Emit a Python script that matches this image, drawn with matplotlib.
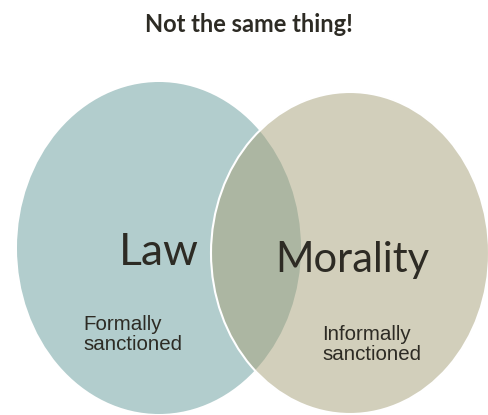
import matplotlib.pyplot as plt
from matplotlib.patches import Ellipse

# Venn content
title = "Not the same thing!"
sets = ["Law", "Morality"]
notes = ["Formally\nsanctioned", "Informally\nsanctioned"]

W, H = 489, 415
fig = plt.figure(figsize=(W / 100, H / 100), dpi=100)
ax = fig.add_axes([0, 0, 1, 1])
ax.set_xlim(0, W)
ax.set_ylim(H, 0)
ax.axis('off')

txt = '#2d2b24'

# left circle (law), opaque
ax.add_patch(Ellipse((159, 248), 284, 332, facecolor='#b2cdcd', edgecolor='none'))
# right circle (morality), half transparent with white rim
ax.add_patch(Ellipse((350, 253), 278, 322, facecolor=(167/255, 161/255, 121/255, 0.5),
                     edgecolor='white', linewidth=1.5))

ax.text(249, 24, title, ha='center', va='center', fontsize=17,
        fontweight='bold', family='Lato', color=txt)

ax.text(159, 265, sets[0], ha='center', va='baseline', fontsize=32,
        family='Lato', color=txt)
ax.text(352, 272, sets[1], ha='center', va='baseline', fontsize=30,
        family='Lato', color=txt)

ax.text(83, 350, notes[0], ha='left', va='baseline', fontsize=14.8,
        family='Liberation Sans', color=txt, linespacing=1.1)
ax.text(322, 360, notes[1], ha='left', va='baseline', fontsize=14.8,
        family='Liberation Sans', color=txt, linespacing=1.1)

fig.savefig('out.png', dpi=100)
